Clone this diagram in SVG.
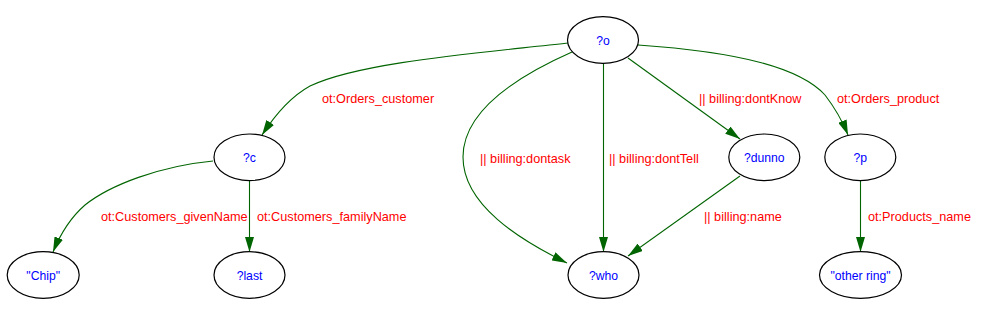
<svg xmlns="http://www.w3.org/2000/svg" width="982" height="316" viewBox="0 0 982 316">
<style>
.node ellipse{fill:#ffffff;stroke:#000000;stroke-width:1.2}
.node text{font-family:"Liberation Sans",Arial,sans-serif;font-size:12.2px;fill:#0000ff;text-anchor:middle}
.edge{fill:none;stroke:#006400;stroke-width:1.1;marker-end:url(#arr)}
.lbl{font-family:"Liberation Sans",Arial,sans-serif;font-size:12.7px;fill:#ff0000}
</style>
<defs>
<marker id="arr" markerUnits="userSpaceOnUse" markerWidth="15" markerHeight="9" refX="15" refY="4.5" orient="auto" viewBox="0 0 15 9">
<path d="M0,0 L15,4.5 L0,9 z" fill="#006400"/>
</marker>
</defs>
<rect width="982" height="316" fill="#ffffff"/>
<g id="connectors">
<path class="edge" d="M568,43 C480,53 360,62 310,86 C290,97 275,115 262,135"/>
<path class="edge" d="M572,52 C520,75 463,110 463,157 C463,205 520,240 567,263"/>
<path class="edge" d="M603.5,63 L603.5,252"/>
<path class="edge" d="M628,58 L740,139"/>
<path class="edge" d="M638,45 C740,52 800,68 825,95 C835,108 842,120 848,135"/>
<path class="edge" d="M740,176 L628,256"/>
<path class="edge" d="M860.5,181 L860.5,252"/>
<path class="edge" d="M213,161 C160,166 110,185 85,205 C70,218 60,235 53,252"/>
<path class="edge" d="M249.5,181 L249.5,252"/>
<text class="lbl" x="322" y="103">ot:Orders_customer</text>
<text class="lbl" x="480" y="163">|| billing:dontask</text>
<text class="lbl" x="609" y="163">|| billing:dontTell</text>
<text class="lbl" x="699" y="103">|| billing:dontKnow</text>
<text class="lbl" x="837" y="103">ot:Orders_product</text>
<text class="lbl" x="101" y="221">ot:Customers_givenName</text>
<text class="lbl" x="257" y="221">ot:Customers_familyName</text>
<text class="lbl" x="704" y="221">|| billing:name</text>
<text class="lbl" x="868" y="221">ot:Products_name</text>
</g>
<g id="n_o" class="node"><ellipse cx="603" cy="40" rx="35.5" ry="23.3"/><text x="603" y="44.5">?o</text></g>
<g id="n_c" class="node"><ellipse cx="249.5" cy="157.3" rx="35.5" ry="23.3"/><text x="249.5" y="161.8">?c</text></g>
<g id="n_dunno" class="node"><ellipse cx="764.3" cy="157.3" rx="35.5" ry="23.3"/><text x="764.3" y="161.8">?dunno</text></g>
<g id="n_p" class="node"><ellipse cx="860.3" cy="157.3" rx="35.5" ry="23.3"/><text x="860.3" y="161.8">?p</text></g>
<g id="n_chip" class="node"><ellipse cx="43.2" cy="275" rx="36" ry="23.3"/><text x="43.2" y="279.5">"Chip"</text></g>
<g id="n_last" class="node"><ellipse cx="249.5" cy="275" rx="35.5" ry="23.3"/><text x="249.5" y="279.5">?last</text></g>
<g id="n_who" class="node"><ellipse cx="603.5" cy="275" rx="35.5" ry="23.3"/><text x="603.5" y="279.5">?who</text></g>
<g id="n_other" class="node"><ellipse cx="860.5" cy="275" rx="41" ry="23.3"/><text x="860.5" y="279.5">"other ring"</text></g>
</svg>
